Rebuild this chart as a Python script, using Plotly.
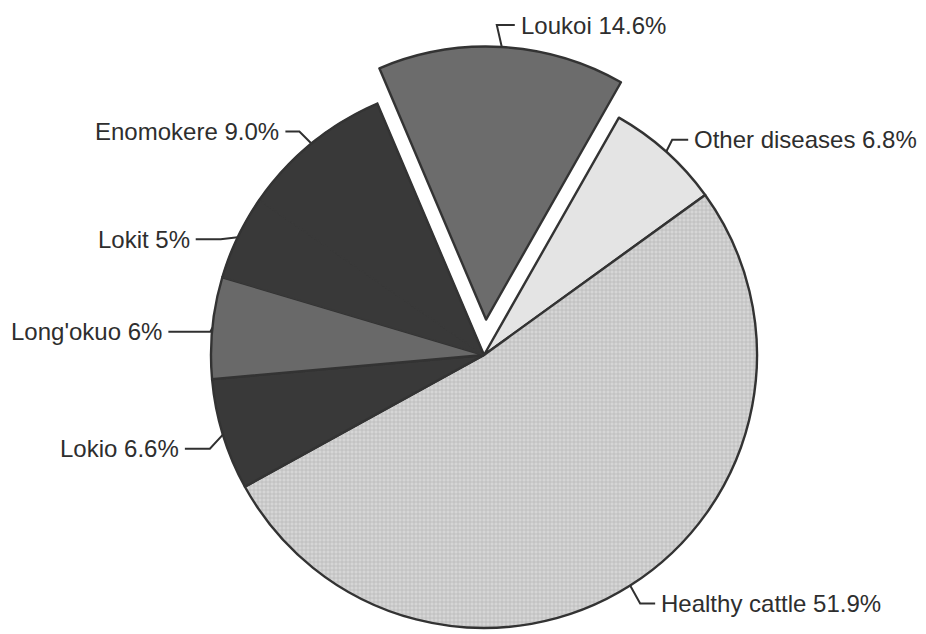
import math
import plotly.graph_objects as go

# Cattle condition breakdown
labels = ["Loukoi", "Other diseases", "Healthy cattle", "Lokio", "Long'okuo", "Lokit", "Enomokere"]
values = [14.6, 6.8, 51.9, 6.6, 6, 5, 9.0]
value_text = ["14.6%", "6.8%", "51.9%", "6.6%", "6%", "5%", "9.0%"]
colors = ["#6c6c6c", "#e4e4e4", "#d2d2d2", "#393939", "#696969", "#393939", "#393939"]
patterns = ["", "", "+", "", "", "", ""]

# layout geometry (pixels)
W, H = 926, 634
CX, CY, R = 484, 355, 273
ROTATION = -23.0          # first slice starts 23 deg left of 12 o'clock
PULL = 0.13               # exploded slice offset, fraction of radius
EXPLODE = 0               # index of exploded slice
OUTLINE = "#333333"

# per-slice outline widths (the Lokit/Enomokere wedge reads as one dark block)
widths = [2.4, 2.4, 2.4, 2.4, 2.4, 1.2, 1.2]

# leader-line styling per label: elbow offset (dx, dy) from slice edge, horizontal run
leaders = [(-5, -22, 18), (6, -12, 16), (10, 18, 15), (-13, 14, -25),
           (-2, 4, -42), (-17, 2, -25), (-12, -12, -14)]


def px(x):
    return x / W


def py(y):
    return 1 - y / H


total = sum(values)
start = 90 - ROTATION
mids = []
acc = 0.0
for v in values:
    mids.append(start - (acc + v / 2) * 360 / total)
    acc += v

dom_x = [px(CX - R), px(CX + R)]
dom_y = [py(CY + R), py(CY - R)]

# shift of the exploded slice along its bisector
mid0 = math.radians(mids[EXPLODE])
shift_x = PULL * R * math.cos(mid0)
shift_y = -PULL * R * math.sin(mid0)

base_colors = [("rgba(0,0,0,0)" if i == EXPLODE else c) for i, c in enumerate(colors)]
base_widths = [(0 if i == EXPLODE else w) for i, w in enumerate(widths)]
top_colors = [(c if i == EXPLODE else "rgba(0,0,0,0)") for i, c in enumerate(colors)]
top_widths = [(w if i == EXPLODE else 0) for i, w in enumerate(widths)]
line_colors = [(colors[i] if widths[i] < 2 else OUTLINE) for i in range(len(values))]

fig = go.Figure()
fig.add_trace(go.Pie(
    labels=labels, values=values, sort=False, direction="clockwise",
    rotation=ROTATION, textinfo="none", hoverinfo="label+percent",
    domain=dict(x=dom_x, y=dom_y), showlegend=False,
    marker=dict(colors=base_colors,
                line=dict(color=line_colors, width=base_widths),
                pattern=dict(shape=patterns, size=4, solidity=0.3,
                             fgcolor="#b4b4b4", bgcolor="#d6d6d6")),
))
fig.add_trace(go.Pie(
    labels=labels, values=values, sort=False, direction="clockwise",
    rotation=ROTATION, textinfo="none", hoverinfo="label+percent",
    domain=dict(x=[px(CX - R + shift_x), px(CX + R + shift_x)],
                y=[py(CY + R + shift_y), py(CY - R + shift_y)]),
    showlegend=False,
    marker=dict(colors=top_colors, line=dict(color=OUTLINE, width=top_widths)),
))

shapes = []
annotations = []
for i, (lab, txt) in enumerate(zip(labels, value_text)):
    a = math.radians(mids[i])
    cx, cy = CX, CY
    if i == EXPLODE:
        cx, cy = CX + shift_x, CY + shift_y
    ax = cx + R * math.cos(a)
    ay = cy - R * math.sin(a)
    dx, dy, run = leaders[i]
    ex, ey = ax + dx, ay + dy
    fx = ex + run
    shapes.append(dict(
        type="path", xref="paper", yref="paper",
        path=f"M {px(ax)} {py(ay)} L {px(ex)} {py(ey)} L {px(fx)} {py(ey)}",
        line=dict(color="#303030", width=2),
    ))
    side = 1 if run > 0 else -1
    annotations.append(dict(
        x=px(fx + 4 * side), y=py(ey), xref="paper", yref="paper",
        text=f"{lab} {txt}", showarrow=False,
        xanchor="left" if side > 0 else "right", yanchor="middle",
        font=dict(family="Arial, Liberation Sans, sans-serif", size=24, color="#2e2e2e"),
    ))

# outer rim and closing edge of the merged dark wedge (Lokit + Enomokere)
a0 = start - sum(values[:5]) * 360 / total
a1 = start - sum(values[:7]) * 360 / total
pts = []
n = 40
for k in range(n + 1):
    t = math.radians(a0 + (a1 - a0) * k / n)
    pts.append((px(CX + R * math.cos(t)), py(CY - R * math.sin(t))))
arc = "M " + " L ".join(f"{x} {y}" for x, y in pts) + f" L {px(CX)} {py(CY)}"
shapes.append(dict(type="path", xref="paper", yref="paper", path=arc,
                   line=dict(color=OUTLINE, width=2.4)))

fig.update_layout(
    width=W, height=H,
    margin=dict(l=0, r=0, t=0, b=0),
    paper_bgcolor="white", plot_bgcolor="white",
    shapes=shapes, annotations=annotations,
)

fig.write_html("out.html")
